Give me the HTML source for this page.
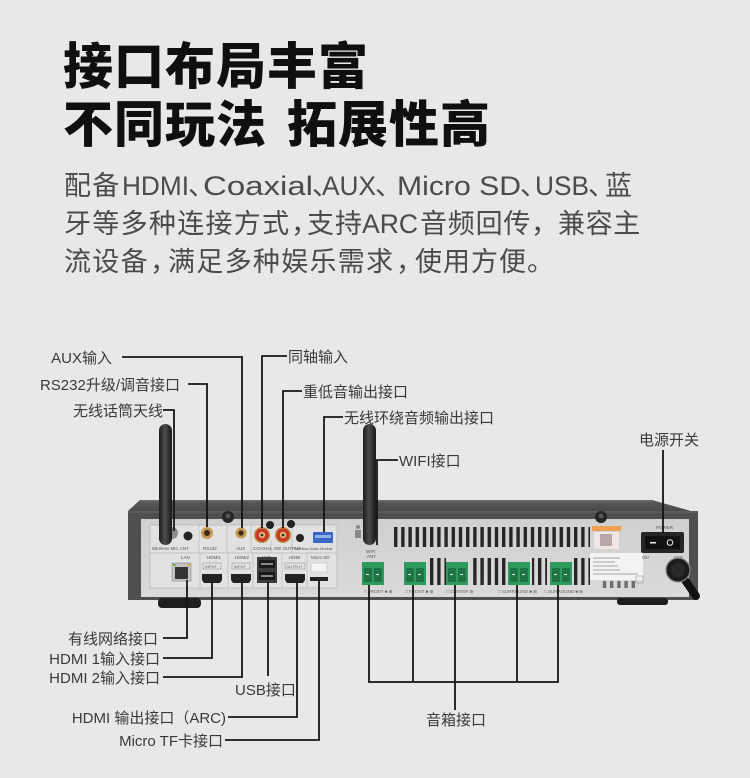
<!DOCTYPE html>
<html><head><meta charset="utf-8">
<style>
html,body{margin:0;padding:0;background:#e8e8e8;}
svg{display:block;}
</style></head><body>
<svg width="750" height="778" viewBox="0 0 750 778" xmlns="http://www.w3.org/2000/svg">
<defs>
 <pattern id="vent" x="394" y="0" width="7.2" height="60" patternUnits="userSpaceOnUse"><rect x="0" y="0" width="3.4" height="60" fill="#262626"/></pattern>
 <linearGradient id="ant" x1="0" x2="1" y1="0" y2="0"><stop offset="0" stop-color="#1c1c1c"/><stop offset="0.45" stop-color="#4c4c4c"/><stop offset="1" stop-color="#181818"/></linearGradient>
 <linearGradient id="panel" x1="0" y1="0" x2="0" y2="1"><stop offset="0" stop-color="#d0d0d0"/><stop offset="1" stop-color="#dadada"/></linearGradient>
 <linearGradient id="top" x1="0" y1="0" x2="0" y2="1"><stop offset="0" stop-color="#5a5a5a"/><stop offset="1" stop-color="#3a3a3a"/></linearGradient>
</defs>
<rect width="750" height="778" fill="#e8e8e8"/>

<!-- Title -->
<g font-family="'Liberation Sans','Noto Sans CJK SC',sans-serif" font-weight="900" font-size="50" fill="#0f0f0f" letter-spacing="1">
 <text x="63" y="84">接口布局丰富</text>
 <text x="63" y="142">不同玩法</text>
 <text x="287" y="142">拓展性高</text>
</g>

<!-- Body text -->
<g font-family="'Liberation Sans','Noto Sans CJK SC',sans-serif" font-size="27" fill="#4b4b4b">
 <text x="64" y="195" letter-spacing="1.3">配备</text>
 <text x="122" y="195" textLength="67" lengthAdjust="spacingAndGlyphs">HDMI</text>
 <text x="188" y="195">、</text>
 <text x="203" y="195" textLength="110" lengthAdjust="spacingAndGlyphs">Coaxial</text>
 <text x="312" y="195">、</text>
 <text x="322" y="195" textLength="54" lengthAdjust="spacingAndGlyphs">AUX</text>
 <text x="375" y="195">、</text>
 <text x="397" y="195" textLength="124" lengthAdjust="spacingAndGlyphs">Micro SD</text>
 <text x="520" y="195">、</text>
 <text x="535" y="195" textLength="54" lengthAdjust="spacingAndGlyphs">USB</text>
 <text x="588" y="195">、</text>
 <text x="605" y="195">蓝</text>

 <text x="64" y="233" letter-spacing="1.3">牙等多种连接方式</text>
 <text x="291" y="233">，</text>
 <text x="307" y="233" letter-spacing="1">支持</text>
 <text x="362" y="233" textLength="56" lengthAdjust="spacingAndGlyphs">ARC</text>
 <text x="420" y="233" letter-spacing="0.8">音频回传</text>
 <text x="531" y="233">，</text>
 <text x="558" y="233" letter-spacing="0.6">兼容主</text>

 <text x="64" y="271" letter-spacing="1.3">流设备</text>
 <text x="150" y="271">，</text>
 <text x="168" y="271" letter-spacing="1.3">满足多种娱乐需求</text>
 <text x="396" y="271">，</text>
 <text x="415" y="271" letter-spacing="1">使用方便。</text>
</g>

<!-- Device chassis -->
<polygon points="128,511 140,500 652,500 698,513 698,522 128,522" fill="url(#top)"/>
<line x1="140" y1="501" x2="652" y2="501" stroke="#777" stroke-width="1"/>
<rect x="128" y="511" width="570" height="89" fill="#4f4f4f"/>
<line x1="128" y1="512" x2="698" y2="512" stroke="#6a6a6a" stroke-width="1"/>
<rect x="141" y="519" width="548" height="78" fill="url(#panel)"/>
<!-- feet -->
<rect x="158" y="598" width="43" height="10" rx="4" fill="#1e1e1e"/>
<rect x="617" y="598" width="51" height="7" rx="3" fill="#1e1e1e"/>
<!-- screws -->
<circle cx="228" cy="517" r="6" fill="#262626"/><circle cx="228" cy="516" r="2.5" fill="#555"/>
<circle cx="601" cy="517" r="6" fill="#262626"/><circle cx="601" cy="516" r="2.5" fill="#555"/>

<!-- left section box -->
<rect x="150" y="525" width="187" height="63" fill="#e2e2e2" stroke="#b5b5b5" stroke-width="0.7"/>
<line x1="150" y1="553" x2="337" y2="553" stroke="#b5b5b5" stroke-width="0.7"/>
<g stroke="#bcbcbc" stroke-width="0.7">
 <line x1="199" y1="525" x2="199" y2="553"/><line x1="227" y1="525" x2="227" y2="553"/>
 <line x1="251" y1="525" x2="251" y2="553"/><line x1="271" y1="540" x2="271" y2="553"/>
 <line x1="292" y1="525" x2="292" y2="553"/>
 <line x1="200" y1="553" x2="200" y2="588"/><line x1="228" y1="553" x2="228" y2="588"/>
 <line x1="253" y1="553" x2="253" y2="588"/><line x1="282" y1="553" x2="282" y2="588"/>
 <line x1="307" y1="553" x2="307" y2="588"/>
</g>
<g font-family="'Liberation Sans',sans-serif" font-size="4.5" fill="#555">
 <text x="152" y="550">Wireless MIC ANT</text>
 <text x="203" y="550">RS232</text>
 <text x="236" y="550">AUX</text>
 <text x="253" y="550">COAXIAL</text>
 <text x="274" y="550">SW OUTPUT</text>
 <text x="294" y="550" font-size="3.8">Wireless Audio Module</text>
 <text x="181" y="559">LAN</text>
 <text x="207" y="559">HDMI1</text>
 <text x="235" y="559">HDMI2</text>
 <text x="262" y="559">USB</text>
 <text x="289" y="559">HDMI</text>
 <text x="311" y="559">Micro SD</text>
</g>
<g fill="none" stroke="#999" stroke-width="0.6">
 <rect x="203" y="563" width="18" height="6"/><rect x="232" y="563" width="18" height="6"/><rect x="285" y="563" width="20" height="6"/>
</g>
<g font-family="'Liberation Sans',sans-serif" font-size="4" fill="#666">
 <text x="205" y="568">INPUT</text><text x="234" y="568">INPUT</text><text x="286" y="568">OUTPUT</text>
</g>
<!-- bottom ports -->
<rect x="172" y="563" width="19" height="18" fill="#c4c4c4" stroke="#888" stroke-width="0.6"/>
<rect x="175" y="567" width="13" height="12" fill="#333"/>
<rect x="173" y="564" width="3" height="2" fill="#7fb04a"/><rect x="187" y="564" width="3" height="2" fill="#d8b040"/>
<path d="M202,574 h20 v6 l-2,3 h-16 l-2,-3z" fill="#222"/>
<path d="M231,574 h20 v6 l-2,3 h-16 l-2,-3z" fill="#222"/>
<path d="M285,574 h20 v6 l-2,3 h-16 l-2,-3z" fill="#222"/>
<rect x="257" y="557" width="20" height="26" fill="#3c3c3c"/>
<rect x="259" y="560" width="16" height="8" fill="#1a1a1a"/><rect x="259" y="572" width="16" height="8" fill="#1a1a1a"/>
<rect x="261" y="563" width="12" height="2" fill="#888"/><rect x="261" y="575" width="12" height="2" fill="#888"/>
<rect x="311" y="563" width="16" height="9" fill="#f4f4f4" stroke="#aaa" stroke-width="0.4"/>
<rect x="310" y="577" width="18" height="4" fill="#222"/>
<!-- top jacks -->
<circle cx="172" cy="533" r="6" fill="#8a8a8a"/>
<circle cx="188" cy="536" r="4.5" fill="#222"/>
<circle cx="207" cy="533" r="6" fill="#c49a55"/><circle cx="207" cy="533" r="3" fill="#3a2a1a"/>
<circle cx="241" cy="533" r="5.5" fill="#c49a55"/><circle cx="241" cy="533" r="2.6" fill="#3a2a1a"/>
<circle cx="262" cy="535" r="8" fill="#b88a40"/><circle cx="262" cy="535" r="6.5" fill="#c8372a"/><circle cx="262" cy="535" r="3.2" fill="#e2bd72"/><circle cx="262" cy="535" r="1.4" fill="#333"/>
<circle cx="283" cy="535" r="8" fill="#b88a40"/><circle cx="283" cy="535" r="6.5" fill="#c8372a"/><circle cx="283" cy="535" r="3.2" fill="#e2bd72"/><circle cx="283" cy="535" r="1.4" fill="#333"/>
<circle cx="270" cy="525" r="4" fill="#222"/><circle cx="291" cy="524" r="4" fill="#222"/><circle cx="300" cy="538" r="4" fill="#222"/>
<rect x="313" y="532" width="20" height="11" rx="1" fill="#3a68c2"/><rect x="315" y="535" width="16" height="3" fill="#8fb0ea"/>

<!-- right side -->
<g fill="#888"><circle cx="358" cy="527" r="2"/><path d="M355,530 h6 v8 h-6z"/></g>
<g font-family="'Liberation Sans',sans-serif" font-size="4.5" fill="#555">
 <text x="366" y="553">WIFI</text><text x="367" y="558">ANT</text>
</g>
<rect x="394" y="527" width="196" height="20" fill="url(#vent)"/>
<rect x="428" y="558" width="18" height="27" fill="url(#vent)"/>
<rect x="470" y="558" width="37" height="27" fill="url(#vent)"/>
<rect x="532" y="558" width="15" height="27" fill="url(#vent)"/>
<rect x="574" y="558" width="16" height="27" fill="url(#vent)"/>
<!-- terminals -->
<g>
 <rect x="362" y="562" width="22" height="23" fill="#2e9a5e"/><rect x="364" y="568" width="8" height="14" fill="#1f7445"/><rect x="374" y="568" width="8" height="14" fill="#1f7445"/>
 <rect x="404" y="562" width="22" height="23" fill="#2e9a5e"/><rect x="406" y="568" width="8" height="14" fill="#1f7445"/><rect x="416" y="568" width="8" height="14" fill="#1f7445"/>
 <rect x="446" y="562" width="22" height="23" fill="#2e9a5e"/><rect x="448" y="568" width="8" height="14" fill="#1f7445"/><rect x="458" y="568" width="8" height="14" fill="#1f7445"/>
 <rect x="508" y="562" width="22" height="23" fill="#2e9a5e"/><rect x="510" y="568" width="8" height="14" fill="#1f7445"/><rect x="520" y="568" width="8" height="14" fill="#1f7445"/>
 <rect x="550" y="562" width="22" height="23" fill="#2e9a5e"/><rect x="552" y="568" width="8" height="14" fill="#1f7445"/><rect x="562" y="568" width="8" height="14" fill="#1f7445"/>
</g>
<g fill="#eee"><rect x="366" y="574" width="3" height="1"/><rect x="376" y="574" width="3" height="1"/><rect x="408" y="574" width="3" height="1"/><rect x="418" y="574" width="3" height="1"/><rect x="450" y="574" width="3" height="1"/><rect x="460" y="574" width="3" height="1"/><rect x="512" y="574" width="3" height="1"/><rect x="522" y="574" width="3" height="1"/><rect x="554" y="574" width="3" height="1"/><rect x="564" y="574" width="3" height="1"/></g>
<g font-family="'Liberation Sans',sans-serif" font-size="4.5" fill="#666">
 <text x="364" y="593">□ FRONT ■ ⊞</text>
 <text x="405" y="593">□ FRONT ■ ⊞</text>
 <text x="446" y="593">□ CENTER ⊞</text>
 <text x="498" y="593">□ SURROUND ■ ⊞</text>
 <text x="544" y="593">□ SURROUND ■ ⊞</text>
</g>
<!-- sticker -->
<rect x="592" y="526" width="29" height="5" fill="#f0a050"/>
<rect x="594" y="532" width="25" height="17" fill="#f1e6e6"/>
<rect x="600" y="534" width="12" height="12" fill="#b9a7a7"/>
<rect x="590" y="553" width="53" height="27" fill="#f3f3f3"/>
<g stroke="#888" stroke-width="0.8"><line x1="593" y1="558" x2="620" y2="558"/><line x1="593" y1="562" x2="615" y2="562"/><line x1="593" y1="566" x2="618" y2="566"/><line x1="593" y1="570" x2="620" y2="570"/><line x1="593" y1="574" x2="638" y2="574"/></g>
<rect x="600" y="581" width="35" height="7" fill="url(#vent)" opacity="0.6"/>
<!-- power -->
<g font-family="'Liberation Sans',sans-serif" font-size="4.5" fill="#555">
 <text x="656" y="529">POWER</text><text x="642" y="559">ON</text><text x="674" y="559">OFF</text>
</g>
<rect x="641" y="532" width="43" height="21" rx="2" fill="#262626"/>
<rect x="645" y="536" width="35" height="13" fill="#111"/>
<rect x="650" y="542" width="6" height="1.5" fill="#eee"/>
<circle cx="670" cy="542.5" r="2.8" fill="none" stroke="#eee" stroke-width="1"/>
<rect x="636" y="576" width="7" height="7" fill="none" stroke="#999" stroke-width="0.6"/>
<line x1="678" y1="570" x2="696" y2="596" stroke="#111" stroke-width="8" stroke-linecap="round"/>
<circle cx="678" cy="570" r="12" fill="#1c1c1c" stroke="#8a8a8a" stroke-width="1.2"/>
<circle cx="678" cy="570" r="7" fill="#2a2a2a"/>

<!-- antennas -->
<rect x="159" y="424" width="13" height="121" rx="6.5" fill="url(#ant)"/>
<rect x="363" y="424" width="13" height="121" rx="6.5" fill="url(#ant)"/>

<!-- leader lines -->
<g fill="none" stroke="#151515" stroke-width="1.8">
 <polyline points="122,357 242,357 242,528"/>
 <polyline points="188,384 207,384 207,527"/>
 <polyline points="163,410 174,410 174,531"/>
 <polyline points="287,356 262,356 262,528"/>
 <polyline points="302,391 283,391 283,528"/>
 <polyline points="343,417 324,417 324,532"/>
 <polyline points="398,460 377,460 377,545"/>
 <polyline points="663,450 663,533"/>

 <polyline points="187,580 187,638 163,638"/>
 <polyline points="212,582 212,658 163,658"/>
 <polyline points="242,582 242,677 163,677"/>
 <polyline points="268,582 268,676"/>
 <polyline points="297,582 297,717 228,717"/>
 <polyline points="319,580 319,740 225,740"/>

 <polyline points="369,585 369,682 558,682 558,585"/>
 <polyline points="413,585 413,682"/>
 <polyline points="455,585 455,710"/>
 <polyline points="517,585 517,682"/>
</g>

<!-- labels -->
<g font-family="'Liberation Sans','Noto Sans CJK SC',sans-serif" font-size="15" fill="#3a3a3a">
 <text x="112" y="363" text-anchor="end">AUX输入</text>
 <text x="180" y="390" text-anchor="end">RS232升级/调音接口</text>
 <text x="163" y="416" text-anchor="end">无线话筒天线</text>
 <text x="288" y="362">同轴输入</text>
 <text x="303" y="397">重低音输出接口</text>
 <text x="344" y="423">无线环绕音频输出接口</text>
 <text x="399" y="466">WIFI接口</text>
 <text x="639" y="445">电源开关</text>

 <text x="158" y="644" text-anchor="end">有线网络接口</text>
 <text x="160" y="664" text-anchor="end">HDMI 1输入接口</text>
 <text x="160" y="683" text-anchor="end">HDMI 2输入接口</text>
 <text x="235" y="695">USB接口</text>
 <text x="226" y="723" text-anchor="end">HDMI 输出接口（ARC)</text>
 <text x="223" y="746" text-anchor="end">Micro TF卡接口</text>
 <text x="426" y="725">音箱接口</text>
</g>
</svg>
</body></html>
